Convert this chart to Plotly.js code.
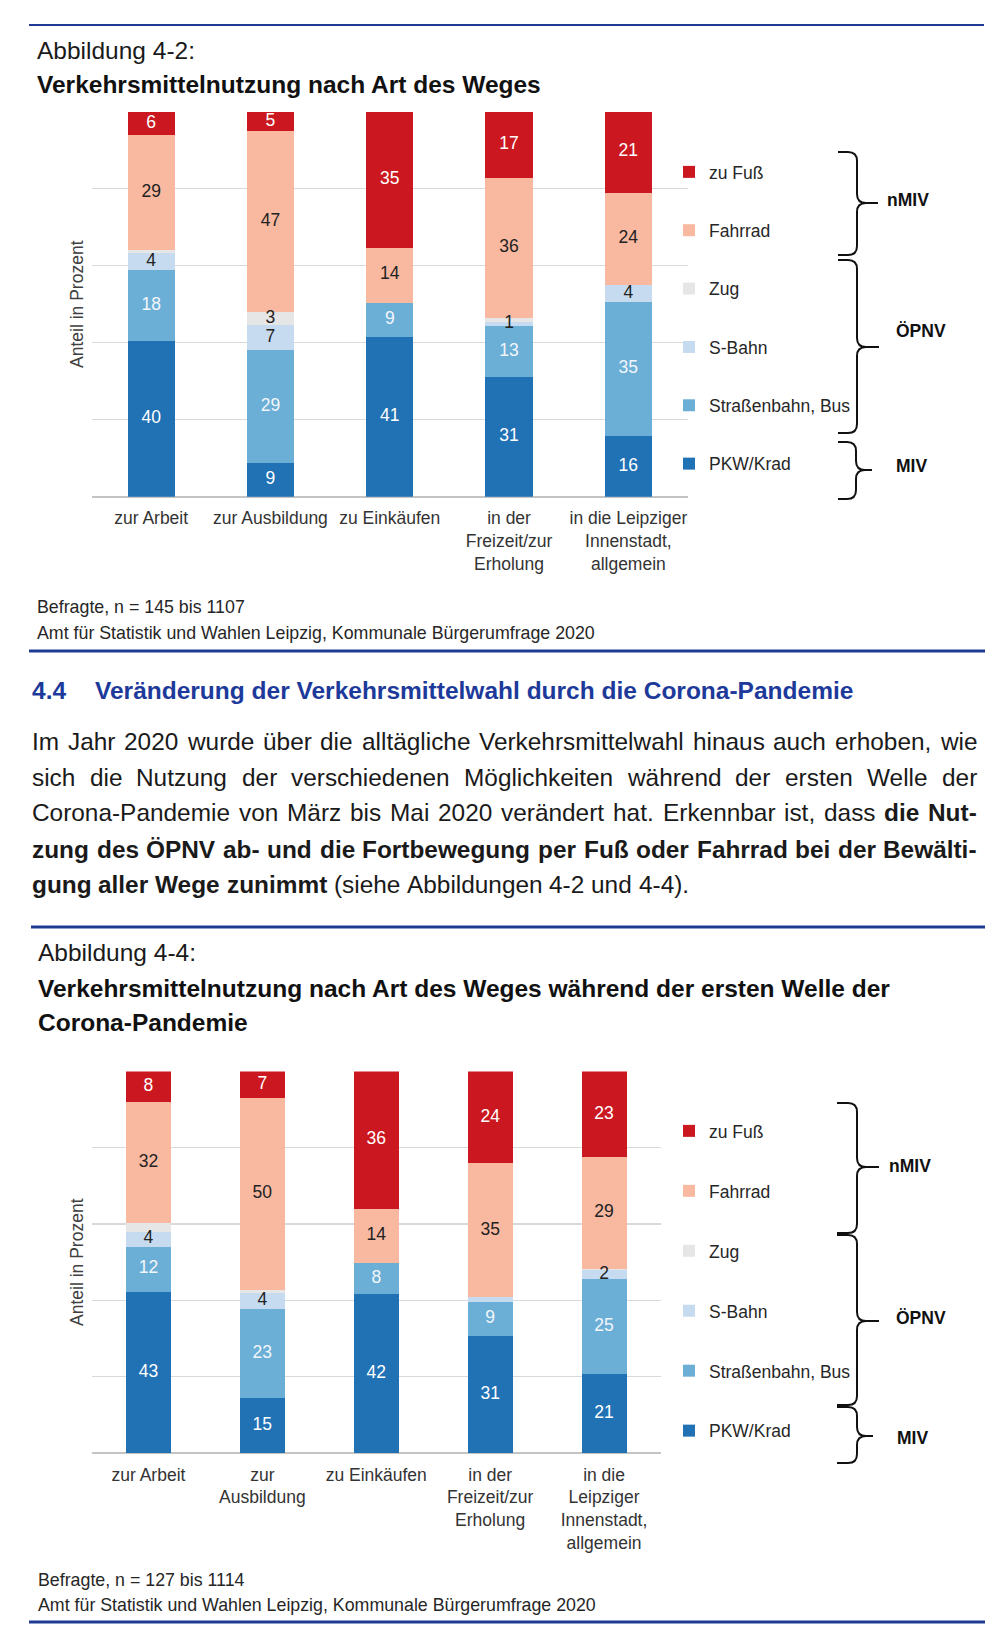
<!DOCTYPE html>
<html><head><meta charset="utf-8">
<script src="https://cdn.plot.ly/plotly-3.0.1.min.js"></script>
<style>html,body{margin:0;padding:0;background:#fff;}#page{width:1000px;height:1639px;}</style>
</head><body><div id="page"></div>
<script>
// ---------- DATA ----------
const categories = ["zur Arbeit", "zur Ausbildung", "zu Einkäufen", "in der Freizeit/zur Erholung", "in die Leipziger Innenstadt, allgemein"];
const tickLabels1 = ["zur Arbeit", "zur Ausbildung", "zu Einkäufen", "in der<br>Freizeit/zur<br>Erholung", "in die Leipziger<br>Innenstadt,<br>allgemein"];
const tickLabels2 = ["zur Arbeit", "zur<br>Ausbildung", "zu Einkäufen", "in der<br>Freizeit/zur<br>Erholung", "in die<br>Leipziger<br>Innenstadt,<br>allgemein"];
const modeNames = ["PKW/Krad", "Straßenbahn, Bus", "S-Bahn", "Zug", "Fahrrad", "zu Fuß"];

// Abbildung 4-2 (percent)
const pkw1   = [40.5,  8.7, 41.4, 31.0, 15.8];
const tram1  = [18.5, 29.3,  9.0, 13.3, 34.9];
const sbahn1 = [ 4.2,  6.7,  0.0,  1.1,  4.3];
const zug1   = [ 1.0,  3.3,  0.0,  1.1,  0.0];
const rad1   = [29.8, 47.0, 14.3, 36.3, 24.0];
const fuss1  = [ 6.0,  5.0, 35.3, 17.2, 21.0];
// printed labels
const pkwLbl1   = ["40", "9", "41", "31", "16"];
const tramLbl1  = ["18", "29", "9", "13", "35"];
const sbahnLbl1 = ["4", "7", "", "1", "4"];
const zugLbl1   = ["", "3", "", "", ""];
const radLbl1   = ["29", "47", "14", "36", "24"];
const fussLbl1  = ["6", "5", "35", "17", "21"];

// Abbildung 4-4
const pkw2   = [42.3, 14.5, 41.7, 30.7, 20.6];
const tram2  = [11.8, 23.2,  8.0,  8.9, 24.9];
const sbahn2 = [ 3.9,  4.2,  0.0,  1.2,  2.5];
const zug2   = [ 2.2,  0.9,  0.0,  0.0,  0.3];
const rad2   = [31.8, 50.3, 14.3, 35.1, 29.3];
const fuss2  = [ 8.0,  6.9, 36.0, 24.1, 22.4];
const pkwLbl2   = ["43", "15", "42", "31", "21"];
const tramLbl2  = ["12", "23", "8", "9", "25"];
const sbahnLbl2 = ["4", "4", "", "", "2"];
const zugLbl2   = ["", "", "", "", ""];
const radLbl2   = ["32", "50", "14", "35", "29"];
const fussLbl2  = ["8", "7", "36", "24", "23"];

// ---------- STYLE / LAYOUT ----------
const W = 1000, H = 1639;
const px = x => x / W, py = y => 1 - y / H;
const FONT = '"Liberation Sans", Arial, sans-serif';
const CF = 17.5; // chart font size
const colors = ["#2171B5", "#6BAED6", "#C6DBEF", "#E6E6E6", "#F9B9A0", "#CB1820"];
const textColors = ["#FFFFFF", "#F2F6FB", "#222222", "#222222", "#222222", "#FFFFFF"];
const NAVY = "#1F3A93";

function barTraces(vals, xa, ya, legend, prefix) {
  return vals.map((v, i) => ({
    type: "bar", name: modeNames[i], x: categories, y: v,
    xaxis: xa, yaxis: ya, legend: legend, legendgroup: prefix + i, legendrank: 6 - i,
    marker: {color: colors[i], line: {width: 0}}, hoverinfo: "skip"
  }));
}
// value labels, placed at the middle of each stacked segment (drawn above all bars)
function labelTraces(vals, lbls, xa, ya) {
  const base = categories.map(() => 0);
  return vals.map((v, i) => {
    const mid = v.map((val, j) => base[j] + val / 2);
    v.forEach((val, j) => { base[j] += val; });
    return {type: "scatter", mode: "text", x: categories, y: mid, text: lbls[i], xaxis: xa, yaxis: ya,
      showlegend: false, textposition: "middle center", cliponaxis: false, hoverinfo: "skip",
      textfont: {family: FONT, size: CF, color: textColors[i]}};
  });
}
const vals1 = [pkw1, tram1, sbahn1, zug1, rad1, fuss1];
const lbls1 = [pkwLbl1, tramLbl1, sbahnLbl1, zugLbl1, radLbl1, fussLbl1];
const vals2 = [pkw2, tram2, sbahn2, zug2, rad2, fuss2];
const lbls2 = [pkwLbl2, tramLbl2, sbahnLbl2, zugLbl2, radLbl2, fussLbl2];
const traces = [
  ...barTraces(vals1, "x", "y", "legend", "a"),
  ...barTraces(vals2, "x2", "y2", "legend2", "b"),
  ...labelTraces(vals1, lbls1, "x", "y"),
  ...labelTraces(vals2, lbls2, "x2", "y2")
];

function xAxis(domain, anchor, ticks) {
  return {domain, anchor, type: "category", tickmode: "array", tickvals: categories, ticktext: ticks,
    tickfont: {family: FONT, size: CF, color: "#333"}, showgrid: false, ticks: "", showline: false,
    ticklabelstandoff: 9, zeroline: false, fixedrange: true, automargin: false};
}
function yAxis(domain, anchor) {
  return {domain, anchor, range: [0, 100], tick0: 0, dtick: 20, showticklabels: false, ticks: "",
    gridcolor: "#D9D9D9", gridwidth: 1.5, zeroline: true, zerolinecolor: "#C4C4C4", zerolinewidth: 2,
    showline: false, fixedrange: true, automargin: false,
    title: {text: "Anteil in Prozent", font: {family: FONT, size: CF, color: "#404040"}, standoff: 2}};
}
function legendCfg(topY, gap) {
  return {x: px(669), y: py(topY), xanchor: "left", yanchor: "top", traceorder: "grouped",
    tracegroupgap: gap, bgcolor: "rgba(0,0,0,0)", borderwidth: 0,
    font: {family: FONT, size: CF, color: "#262626"}};
}

// ---------- shapes ----------
const P = (x, y) => px(x) + "," + py(y);
function brace(xL, xS, xT, yTop, yBot, yTip) {
  const r = 9;
  const path = "M" + P(xL, yTop) + " L" + P(xS - r, yTop) + " Q" + P(xS, yTop) + " " + P(xS, yTop + r) +
    " L" + P(xS, yTip - r) + " Q" + P(xS, yTip) + " " + P(xS + r, yTip) + " L" + P(xT, yTip) +
    " M" + P(xS + r, yTip) + " Q" + P(xS, yTip) + " " + P(xS, yTip + r) +
    " L" + P(xS, yBot - r) + " Q" + P(xS, yBot) + " " + P(xS - r, yBot) + " L" + P(xL, yBot);
  return {type: "path", xref: "paper", yref: "paper", path, line: {color: "#111", width: 2}};
}
function hline(x0, x1, y, w) {
  return {type: "line", xref: "paper", yref: "paper", x0: px(x0), x1: px(x1), y0: py(y), y1: py(y),
    line: {color: NAVY, width: w}};
}
const shapes = [
  hline(29, 984, 25, 2), hline(29, 985, 651, 3), hline(31, 985, 927, 3), hline(29, 985, 1622, 3),
  brace(838, 857, 878, 152, 255, 203), brace(838, 857, 879, 260, 433, 347), brace(838, 856, 872, 442, 499, 470),
  brace(837, 857, 879, 1103, 1233, 1167), brace(837, 857, 879, 1235, 1405, 1321), brace(837, 857, 873, 1407, 1463, 1436)
];

// ---------- annotations ----------
const annotations = [];
function ann(text, x, y, size, color) {
  annotations.push({text, x: px(x), y: py(y), xref: "paper", yref: "paper", xanchor: "left",
    yanchor: "middle", showarrow: false, borderpad: 0, borderwidth: 0,
    font: {family: FONT, size, color}});
}
const FN = 17.8;
ann("Abbildung 4-2:", 37, 50, 24.5, "#1a1a1a");
ann("<b>Verkehrsmittelnutzung nach Art des Weges</b>", 37, 85, 24.5, "#111");
ann("Befragte, n = 145 bis 1107", 37, 607, FN, "#262626");
ann("Amt für Statistik und Wahlen Leipzig, Kommunale Bürgerumfrage 2020", 37, 633, FN, "#262626");
ann("<b>nMIV</b>", 887, 200, CF, "#111");
ann("<b>ÖPNV</b>", 896, 331, CF, "#111");
ann("<b>MIV</b>", 896, 466, CF, "#111");

ann("<b>4.4</b>", 32, 690, 24.5, "#1D3A9B");
ann("<b>Veränderung der Verkehrsmittelwahl durch die Corona-Pandemie</b>", 95, 690, 24.5, "#1D3A9B");

ann("Abbildung 4-4:", 38, 952, 24.5, "#1a1a1a");
ann("<b>Verkehrsmittelnutzung nach Art des Weges während der ersten Welle der</b>", 38, 988, 24.5, "#111");
ann("<b>Corona-Pandemie</b>", 38, 1022, 24.5, "#111");
ann("Befragte, n = 127 bis 1114", 38, 1580, FN, "#262626");
ann("Amt für Statistik und Wahlen Leipzig, Kommunale Bürgerumfrage 2020", 38, 1605, FN, "#262626");
ann("<b>nMIV</b>", 889, 1166, CF, "#111");
ann("<b>ÖPNV</b>", 896, 1318, CF, "#111");
ann("<b>MIV</b>", 897, 1438, CF, "#111");

// body paragraph (justified, measured with canvas)
const bodyLines = [
  [["Im Jahr 2020 wurde über die alltägliche Verkehrsmittelwahl hinaus auch erhoben, wie", false]],
  [["sich die Nutzung der verschiedenen Möglichkeiten während der ersten Welle der", false]],
  [["Corona-Pandemie von März bis Mai 2020 verändert hat. Erkennbar ist, dass", false], ["die Nut-", true]],
  [["zung des ÖPNV ab- und die Fortbewegung per Fuß oder Fahrrad bei der Bewälti-", true]],
  [["gung aller Wege zunimmt", true], ["(siehe Abbildungen 4-2 und 4-4).", false]]
];
const ctx = document.createElement("canvas").getContext("2d");
const BODY = 24.4;
function measure(t, b) { ctx.font = (b ? "bold " : "") + BODY + "px \"Liberation Sans\""; return ctx.measureText(t).width; }
const bodyLeft = 32, bodyRight = 977, bodyY = [741, 777, 813, 849, 885];
bodyLines.forEach((segs, li) => {
  const words = [];
  segs.forEach(([t, b]) => t.split(" ").forEach(w => words.push([w, b])));
  const widths = words.map(([w, b]) => measure(w, b));
  const total = widths.reduce((a, c) => a + c, 0);
  const justify = li < bodyLines.length - 1;
  const gap = justify ? (bodyRight - bodyLeft - total) / (words.length - 1) : measure(" ", false);
  let cx = bodyLeft;
  words.forEach(([w, b], i) => {
    ann(b ? "<b>" + w + "</b>" : w, cx, bodyY[li], BODY, "#1a1a1a");
    cx += widths[i] + gap;
  });
});

const layout = {
  width: W, height: H, margin: {l: 0, r: 0, t: 0, b: 0}, paper_bgcolor: "#fff", plot_bgcolor: "#fff",
  barmode: "stack", bargap: 0.605, font: {family: FONT, color: "#262626"},
  xaxis: xAxis([px(91.5), px(688)], "y", tickLabels1),
  yaxis: yAxis([py(496.7), py(111.7)], "x"),
  xaxis2: xAxis([px(91.5), px(661)], "y2", tickLabels2),
  yaxis2: yAxis([py(1453), py(1071.4)], "x2"),
  legend: legendCfg(154, 32.6),
  legend2: legendCfg(1113, 34.2),
  shapes, annotations, hovermode: false
};
Plotly.newPlot("page", traces, layout, {staticPlot: true, displayModeBar: false});
</script></body></html>
